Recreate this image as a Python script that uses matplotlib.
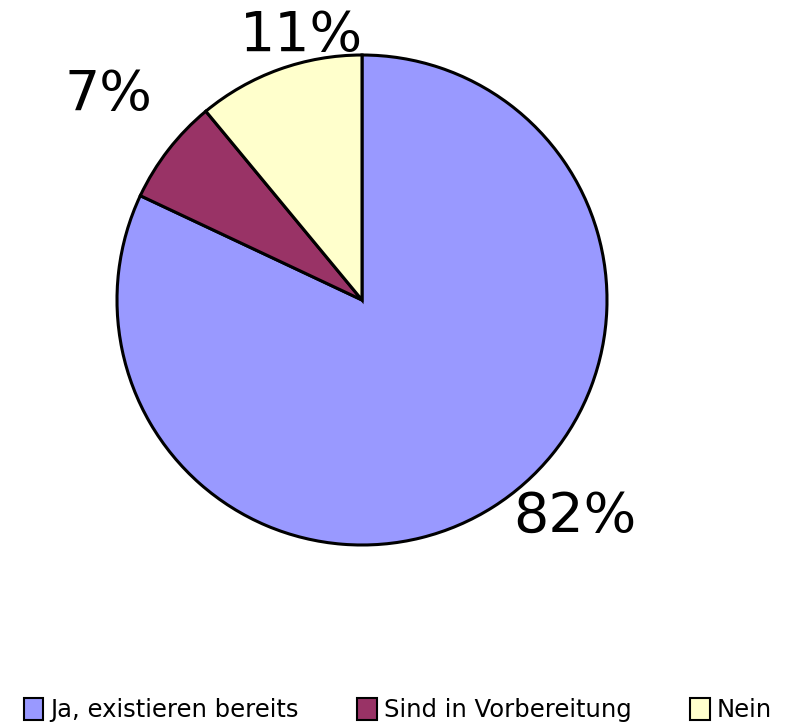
import matplotlib.pyplot as plt
import numpy as np
from matplotlib.patches import Patch

categories = ["Ja, existieren bereits", "Sind in Vorbereitung", "Nein"]
values = [82, 7, 11]
pct_labels = ["82%", "7%", "11%"]
colors = ["#9999FF", "#993366", "#FFFFCC"]

# label placement (radius, angle in degrees) relative to pie centre
label_pos = [(1.24, -45.6), (1.33, 141.0), (1.105, 103.0)]

plt.rcParams['font.family'] = ['DejaVu Sans']

fig = plt.figure(figsize=(7.87, 7.25), dpi=100)
W, H = 787, 725
cx, cy, r = 362, 300, 245
ax = fig.add_axes([(cx - r) / W, (H - cy - r) / H, 2 * r / W, 2 * r / H])

wedges, _ = ax.pie(values, colors=colors, startangle=90, counterclock=False,
                   radius=1.0, wedgeprops=dict(edgecolor="black", linewidth=2.2))
ax.set_xlim(-1, 1)
ax.set_ylim(-1, 1)
ax.set_aspect("equal")
ax.axis("off")

for txt, (rr, ang) in zip(pct_labels, label_pos):
    a = np.deg2rad(ang)
    ax.text(rr * np.cos(a), rr * np.sin(a), txt, ha="center", va="center",
            fontsize=40, clip_on=False)

handles = [Patch(facecolor=c, edgecolor="black", linewidth=1.5) for c in colors]
fig.legend(handles, categories, loc="center", bbox_to_anchor=(398 / W, 1 - 710 / H),
           ncol=3, frameon=False, fontsize=17.5, handlelength=0.8, handleheight=1.0,
           handletextpad=0.3, columnspacing=2.4, borderpad=0, borderaxespad=0)

fig.savefig("out.png", dpi=100)
